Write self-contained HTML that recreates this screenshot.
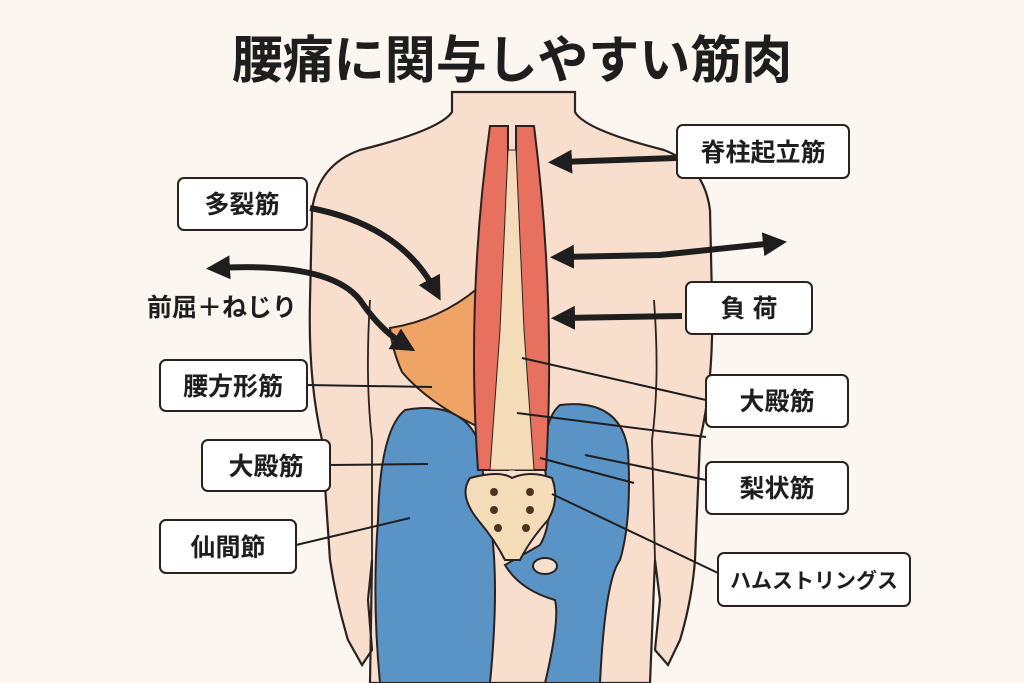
<!DOCTYPE html>
<html><head><meta charset="utf-8"><style>
html,body{margin:0;padding:0;background:#fbf6ef;}
svg{display:block}
text{font-family:"Liberation Sans","Noto Sans CJK JP",sans-serif;font-weight:bold;fill:#1e1e1e}
</style></head><body>
<svg width="1024" height="683" viewBox="0 0 1024 683" xmlns="http://www.w3.org/2000/svg">
<defs>
<marker id="ah" markerWidth="4" markerHeight="4" refX="2" refY="2" orient="auto" markerUnits="strokeWidth"><path d="M0,0 L4,2 L0,4 Z" fill="#1e1e1e"/></marker>
<marker id="ahs" markerWidth="4" markerHeight="4" refX="2" refY="2" orient="auto-start-reverse" markerUnits="strokeWidth"><path d="M0,0 L4,2 L0,4 Z" fill="#1e1e1e"/></marker>
</defs>
<rect width="1024" height="683" fill="#fbf6ef"/>
<text x="512" y="78" font-size="51" text-anchor="middle">腰痛に関与しやすい筋肉</text>

<!-- body -->
<g stroke="#2a2220" stroke-width="2.2" fill="#f8dfcd">
<path d="M452,92 L452,112 Q440,130 360,150 Q318,165 312,210 L310,300 Q308,380 322,440 L330,560 Q336,600 348,640 L362,665 L372,650 L368,600 L372,560 L370,683 L650,683 L655,560 L660,600 L655,650 L668,665 L680,640 Q692,600 695,560 L700,440 Q714,380 712,300 L710,210 Q704,165 664,150 Q585,130 575,112 L575,92 Z"/>
</g>
<g stroke="#2a2220" stroke-width="1.8" fill="none">
<path d="M370,300 Q365,380 372,440 L372,560"/>
<path d="M654,300 Q660,380 652,440 L655,560"/>
</g>

<!-- blue glutes/hamstrings -->
<g stroke="#2a2220" stroke-width="2" fill="#5a93c6">
<path d="M405,410 Q460,400 478,440 L490,520 Q500,580 490,683 L380,683 Q372,600 378,520 Q380,430 405,410 Z"/>
<path d="M560,405 Q620,398 628,450 Q632,520 620,560 Q605,580 600,683 L545,683 Q560,620 555,600 Q520,590 505,565 L540,545 Q555,520 545,470 Q542,420 560,405 Z"/>
</g>
<ellipse cx="545" cy="566" rx="12" ry="8" fill="#f8dfcd" stroke="#2a2220" stroke-width="2"/>

<!-- orange quadratus -->
<path d="M390,328 Q440,320 478,288 L485,430 Q430,405 402,372 Q392,350 390,328 Z" fill="#efa465" stroke="#2a2220" stroke-width="2"/>

<!-- spine muscles -->
<path d="M490,126 L508,126 L508,470 L478,470 Q466,300 490,126 Z" fill="#e8705f" stroke="#2a2220" stroke-width="2"/>
<path d="M516,126 L534,126 Q556,300 546,470 L516,470 Z" fill="#e8705f" stroke="#2a2220" stroke-width="2"/>
<path d="M508,150 L516,150 L524,330 L534,470 L490,470 L500,330 Z" fill="#f4dcb8" stroke="#2a2220" stroke-width="1"/>
<!-- sacrum -->
<path d="M470,478 Q500,470 512,478 Q530,470 552,478 Q560,500 548,520 Q530,540 520,560 L505,560 Q495,540 478,520 Q458,495 470,478 Z" fill="#f4dcb8" stroke="#2a2220" stroke-width="2"/>
<g fill="#4a3520"><circle cx="494" cy="492" r="4"/><circle cx="530" cy="492" r="4"/><circle cx="494" cy="510" r="4"/><circle cx="530" cy="510" r="4"/><circle cx="498" cy="528" r="4"/><circle cx="526" cy="528" r="4"/></g>

<!-- arrows -->
<g stroke="#1e1e1e" stroke-width="6" fill="none">
<path d="M676,158 L560,162" marker-end="url(#ah)"/>
<path d="M682,316 L563,318" marker-end="url(#ah)"/>
<path d="M310,208 Q400,225 435,290" marker-end="url(#ah)"/>
<path d="M218,268 Q330,262 360,300 Q380,330 405,345" marker-start="url(#ahs)" marker-end="url(#ah)"/>
<path d="M562,257 L660,255 L775,243" marker-start="url(#ahs)" marker-end="url(#ah)"/>
</g>

<!-- leader lines -->
<g stroke="#1e1e1e" stroke-width="2">
<line x1="307" y1="385" x2="432" y2="387"/>
<line x1="330" y1="465" x2="428" y2="464"/>
<line x1="296" y1="545" x2="410" y2="518"/>
<line x1="522" y1="358" x2="706" y2="400"/>
<line x1="517" y1="413" x2="706" y2="437"/>
<line x1="540" y1="458" x2="634" y2="483"/>
<line x1="585" y1="455" x2="706" y2="480"/>
<line x1="552" y1="494" x2="718" y2="573"/>
</g>

<!-- label boxes -->
<g fill="#ffffff" stroke="#2a2220" stroke-width="2">
<rect x="677" y="125" width="172" height="53" rx="6"/>
<rect x="178" y="178" width="129" height="52" rx="6"/>
<rect x="686" y="282" width="126" height="52" rx="6"/>
<rect x="160" y="360" width="147" height="51" rx="6"/>
<rect x="202" y="440" width="128" height="51" rx="6"/>
<rect x="160" y="520" width="136" height="53" rx="6"/>
<rect x="706" y="375" width="142" height="52" rx="6"/>
<rect x="706" y="462" width="142" height="52" rx="6"/>
<rect x="718" y="553" width="192" height="53" rx="6"/>
</g>
<g font-size="25" text-anchor="middle">
<text x="763" y="161">脊柱起立筋</text>
<text x="242" y="213">多裂筋</text>
<text x="749" y="317">負 荷</text>
<text x="233" y="395">腰方形筋</text>
<text x="266" y="475">大殿筋</text>
<text x="228" y="556">仙間節</text>
<text x="777" y="410">大殿筋</text>
<text x="777" y="497">梨状筋</text>
<text x="814" y="588" font-size="21">ハムストリングス</text>
<text x="222" y="316">前屈＋ねじり</text>
</g>
</svg>
</body></html>
